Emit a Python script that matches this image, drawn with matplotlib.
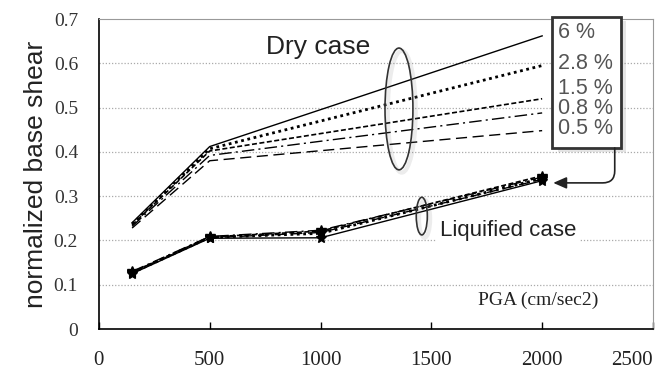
import matplotlib.pyplot as plt
from matplotlib.patches import Ellipse, Rectangle
import matplotlib.patheffects as pe

# PGA values (cm/sec2)
pga_dry = [150, 500, 2000]
pga_liq = [150, 500, 1000, 2000]

labels = ['6 %', '2.8 %', '1.5 %', '0.8 %', '0.5 %']

# dry case, normalized base shear
dry_6 = [0.240, 0.412, 0.662]
dry_28 = [0.237, 0.407, 0.595]
dry_15 = [0.235, 0.402, 0.520]
dry_08 = [0.232, 0.392, 0.488]
dry_05 = [0.228, 0.380, 0.448]

# liquified case
liq_6 = [0.125, 0.205, 0.206, 0.335]
liq_28 = [0.127, 0.207, 0.216, 0.340]
liq_15 = [0.128, 0.208, 0.221, 0.346]
liq_08 = [0.130, 0.209, 0.223, 0.343]
liq_05 = [0.128, 0.206, 0.218, 0.338]

styles = ['-', (0, (1, 1.3)), (0, (3, 1.5)), (0, (9, 3, 1.5, 3)), (0, (8, 4))]
widths = [1.0, 2.0, 1.2, 1.0, 1.0]

fig = plt.figure(figsize=(6.68, 3.78), dpi=100)
ax = fig.add_axes([0.148, 0.1296, 0.8295, 0.82])

ax.set_xlim(0, 2500)
ax.set_ylim(0, 0.7)
ax.set_xticks(range(0, 2501, 500))
ax.set_yticks([0, 0.1, 0.2, 0.3, 0.4, 0.5, 0.6, 0.7])
ax.set_yticklabels(['0', '0.1', '0.2', '0.3', '0.4', '0.5', '0.6', '0.7'])
for lab in ax.get_xticklabels():
    lab.set_fontfamily('Liberation Serif')
for lab in ax.get_yticklabels():
    lab.set_fontfamily('Liberation Serif')
ax.get_xticklabels()[-1].set_horizontalalignment('right')
ax.tick_params(axis='x', direction='in', length=5, width=1, pad=16, labelsize=15)
ax.tick_params(axis='y', length=0, pad=15, labelsize=14, labelcolor='#333333')
ax.tick_params(axis='x', labelcolor='#222222')

for y in [0.1, 0.2, 0.3, 0.4, 0.5, 0.6]:
    ax.axhline(y, color='#aaaaaa', lw=0.9, ls=(0, (1, 1.5)), zorder=0)

ax.spines['left'].set_color('black')
ax.spines['bottom'].set_color('black')
ax.spines['top'].set_color('#999999')
ax.spines['right'].set_color('#999999')
ax.spines['left'].set_linewidth(1.2)
ax.spines['bottom'].set_linewidth(1.2)

for vals, ls, lw in zip([dry_6, dry_28, dry_15, dry_08, dry_05], styles, widths):
    ax.plot(pga_dry, vals, color='black', ls=ls, lw=lw, zorder=3)

for vals, ls, lw in zip([liq_6, liq_28, liq_15, liq_08, liq_05], styles, widths):
    ax.plot(pga_liq, vals, color='black', ls=ls, lw=lw, marker='*', ms=7, zorder=3)

ax.set_ylabel('normalized base shear', fontsize=19, family='Liberation Sans',
              color='#222222', labelpad=4)

shadow = [pe.SimpleLineShadow(offset=(2, -2), shadow_color='gray', alpha=0.15, linewidth=3),
          pe.Normal()]

# ellipses marking the two groups
ax.add_patch(Ellipse((1354, 0.497), 126, 0.275, fill=False, ec='#333333', lw=1.2,
                     zorder=4, path_effects=shadow))
ax.add_patch(Ellipse((1457, 0.255), 50, 0.085, fill=False, ec='#333333', lw=1.2,
                     zorder=4, path_effects=shadow))

ax.text(988, 0.637, 'Dry case', fontsize=19, family='Liberation Sans', ha='center',
        va='center', color='#222222', zorder=2,
        bbox=dict(fc='white', ec='none', pad=3))
ax.text(1845, 0.223, 'Liquified case', fontsize=16, family='Liberation Sans', ha='center',
        va='center', color='#222222', zorder=2,
        bbox=dict(fc='white', ec='none', pad=2))
ax.text(1982, 0.065, 'PGA (cm/sec2)', fontsize=14, family='Liberation Serif', ha='center',
        va='center', color='#222222')

# legend-like box of steel ratios
box = Rectangle((0.818, 0.584), 0.124, 0.422, transform=ax.transAxes, fc='white',
                ec='#333333', lw=2, clip_on=False, zorder=5,
                path_effects=[pe.SimplePatchShadow(offset=(4, -3), shadow_rgbFace='gray',
                                                   alpha=0.2), pe.Normal()])
ax.add_patch(box)
ys = [0.955, 0.855, 0.777, 0.712, 0.648]
for lab, y in zip(labels, ys):
    ax.text(0.829, y, lab, transform=ax.transAxes, fontsize=15.5, family='Liberation Sans',
            color='#555555', ha='left', va='center', zorder=6)

ax.annotate('', xy=(2050, 0.33), xycoords='data', xytext=(0.931, 0.584),
            textcoords='axes fraction',
            arrowprops=dict(arrowstyle='-|>,head_length=0.8,head_width=0.35', color='#222222',
                            lw=1.2, connectionstyle='angle,angleA=90,angleB=0,rad=12',
                            shrinkA=0, shrinkB=0),
            zorder=6)

fig.savefig('out.png', dpi=100)
